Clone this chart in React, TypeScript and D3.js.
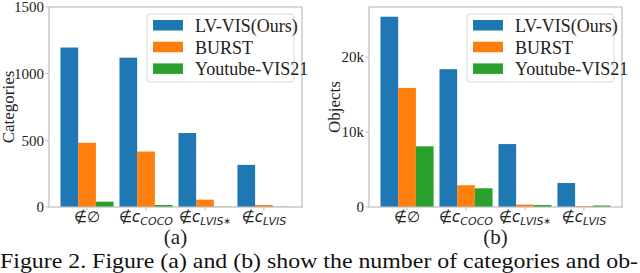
import React from 'react';
import * as d3 from 'd3';

// data
const groups = ['notin_empty', 'notin_coco', 'notin_lvis_star', 'notin_lvis'];
const seriesNames = ['LV-VIS(Ours)', 'BURST', 'Youtube-VIS21'];
const colors = ['#1f77b4', '#ff7f0e', '#2ca02c'];

const categoriesLvvis = [1196, 1120, 555, 316];
const categoriesBurst = [482, 416, 55, 15];
const categoriesYtvis = [40, 15, 3, 2];

const objectsLvvis = [25400, 18400, 8400, 3200];
const objectsBurst = [15900, 2900, 320, 120];
const objectsYtvis = [8100, 2500, 260, 200];

const catTicks = [0, 500, 1000, 1500];
const objTicks = [0, 10000, 20000];

const SERIF = '"Liberation Serif", "Times New Roman", serif';
const MATH = '"DejaVu Sans", sans-serif';

type PanelProps = {
  left: number;
  series: number[][];
  yMax: number;
  ticks: number[];
  tickFmt: (v: number) => string;
  yLabel: string;
  yLabelOffset: number;
  caption: string;
};

const TickLabel = ({ i }: { i: number }) => {
  // mathtext-like labels
  if (i === 0) return <tspan>∉∅</tspan>;
  const sub = i === 1 ? 'COCO' : 'LVIS';
  return (
    <>
      <tspan>∉</tspan>
      <tspan fontStyle="italic">c</tspan>
      <tspan fontStyle="italic" fontSize={11} dy={3}>{sub}</tspan>
      {i === 2 && <tspan fontSize={9} dy={-1}>∗</tspan>}
    </>
  );
};

const Panel = ({ left, series, yMax, ticks, tickFmt, yLabel, yLabelOffset, caption }: PanelProps) => {
  const width = 253;
  const top = 7;
  const bottom = 207;
  const x = d3.scaleLinear().domain([-0.645, 3.645]).range([left, left + width]);
  const y = d3.scaleLinear().domain([0, yMax]).range([bottom, top]);
  const bw = 0.3;
  const legX = left + width - 155;

  return (
    <g>
      {series.map((vals, s) =>
        vals.map((v, i) => (
          <rect
            key={`${s}-${i}`}
            x={x(i + (s - 1) * bw - bw / 2)}
            y={y(v)}
            width={x(bw) - x(0)}
            height={y(0) - y(v)}
            fill={colors[s]}
          />
        ))
      )}
      <rect x={left} y={top} width={width} height={bottom - top} fill="none" stroke="#bdbdbd" strokeWidth={1.2} />
      {ticks.map(t => (
        <g key={t}>
          <line x1={left - 3.5} x2={left} y1={y(t)} y2={y(t)} stroke="#bdbdbd" />
          <text x={left - 5} y={y(t)} dy="0.35em" textAnchor="end" fontFamily={SERIF} fontSize={15} fill="#222">
            {tickFmt(t)}
          </text>
        </g>
      ))}
      {groups.map((g, i) => (
        <g key={g}>
          <line x1={x(i)} x2={x(i)} y1={bottom} y2={bottom + 3.5} stroke="#bdbdbd" />
          <text x={x(i)} y={222} textAnchor="middle" fontFamily={MATH} fontSize={15} fill="#222">
            <TickLabel i={i} />
          </text>
        </g>
      ))}
      <text
        transform={`translate(${left + yLabelOffset},${(top + bottom) / 2}) rotate(-90)`}
        textAnchor="middle"
        fontFamily={SERIF}
        fontSize={17}
        fill="#222"
      >
        {yLabel}
      </text>
      <text x={left + width / 2} y={244} textAnchor="middle" fontFamily={SERIF} fontSize={21} fill="#222">
        {caption}
      </text>
      <rect x={legX} y={14} width={147} height={68} rx={3} fill="white" fillOpacity={0.8} stroke="#dcdcdc" />
      {seriesNames.map((n, s) => (
        <g key={n}>
          <rect x={legX + 6} y={20 + s * 21.7} width={30} height={10.5} fill={colors[s]} />
          <text x={legX + 48} y={25.5 + s * 21.7} dy="0.35em" fontFamily={SERIF} fontSize={18} fill="#222">
            {n}
          </text>
        </g>
      ))}
    </g>
  );
};

export default function App() {
  return (
    <svg width={640} height={273} style={{ position: 'absolute', left: 0, top: 0, background: 'white' }}>
      <Panel
        left={49}
        series={[categoriesLvvis, categoriesBurst, categoriesYtvis]}
        yMax={1500}
        ticks={catTicks}
        tickFmt={d => String(d)}
        yLabel="Categories"
        yLabelOffset={-35.5}
        caption="(a)"
      />
      <Panel
        left={369}
        series={[objectsLvvis, objectsBurst, objectsYtvis]}
        yMax={26700}
        ticks={objTicks}
        tickFmt={d => (d === 0 ? '0' : `${d / 1000}k`)}
        yLabel="Objects"
        yLabelOffset={-29}
        caption="(b)"
      />
      <text x={0} y={268} fontFamily={SERIF} fontSize={22} fill="#111" textLength={638} lengthAdjust="spacingAndGlyphs">
        Figure 2. Figure (a) and (b) show the number of categories and ob-
      </text>
    </svg>
  );
}
